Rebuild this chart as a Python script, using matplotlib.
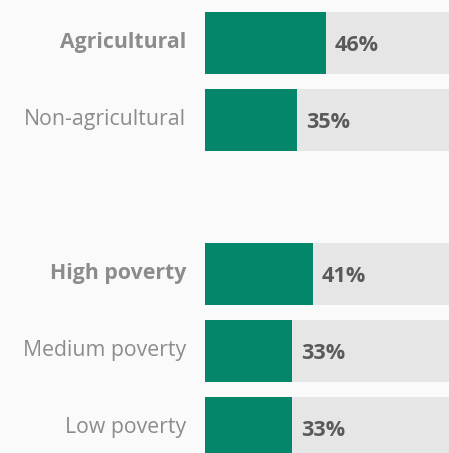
import numpy as np
import matplotlib.pyplot as plt

plt.rcParams['font.family'] = ['Open Sans', 'DejaVu Sans']

# data
labels = ['Agricultural', 'Non-agricultural', 'High poverty', 'Medium poverty', 'Low poverty']
values = [46, 35, 41, 33, 33]
bold = [True, False, True, False, False]
slots = [0, 1, 3, 4, 5]   # empty slot between the two groups
full = [100] * len(values)

green = '#03866a'
grey_bar = '#e6e6e6'
bg = '#fafafa'

W, H = 449, 453
fig = plt.figure(figsize=(W / 100, H / 100), dpi=100, facecolor=bg)

# bars start at x=205 px, 100% would reach ~468 px
ax = fig.add_axes([205 / W, 0, (W - 205) / W, 1])
ax.set_facecolor(bg)
ax.set_xlim(0, 100 * (W - 205) / 263)
pitch = 77.0
ax.set_ylim((H - 43) / pitch, -43 / pitch)

h = 62 / pitch
ax.barh(slots, full, height=h, color=grey_bar, linewidth=0)
ax.barh(slots, values, height=h, color=green, linewidth=0)

for y, v, lab, b in zip(slots, values, labels, bold):
    ax.annotate(f'{v}%', xy=(v, y), xytext=(9, -3), textcoords='offset pixels',
                ha='left', va='center', fontsize=15.6, fontweight='bold', color='#5a5a5a')
    ax.annotate(lab, xy=(0, y), xytext=(-19, 0), textcoords='offset pixels',
                ha='right', va='center', fontsize=15.3,
                fontweight='bold' if b else 'normal', color='#8c8c8c',
                annotation_clip=False)

ax.axis('off')
fig.savefig('out.png', dpi=100, facecolor=bg)
